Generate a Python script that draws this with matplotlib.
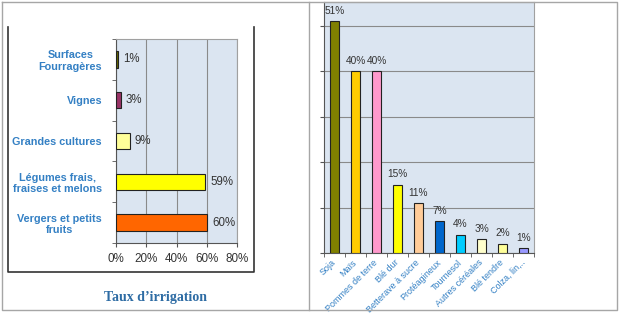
import matplotlib
matplotlib.use("Agg")
import matplotlib.pyplot as plt
from matplotlib.lines import Line2D
import numpy as np

# ---- data ----
irr_categories = ["Surfaces\nFourragères", "Vignes", "Grandes cultures",
                  "Légumes frais,\nfraises et melons", "Vergers et petits\nfruits"]
irr_values = [1, 3, 9, 59, 60]
irr_colors = ["#666600", "#993366", "#ffff99", "#ffff00", "#ff6600"]
irr_ticks = [0, 20, 40, 60, 80]

crop_categories = ["Soja", "Maïs", "Pommes de terre", "Blé dur", "Betterave à sucre",
                   "Protéagineux", "Tournesol", "Autres céréales", "Blé tendre", "Colza, lin,.."]
crop_values = [51, 40, 40, 15, 11, 7, 4, 3, 2, 1]
crop_colors = ["#808000", "#ffcc00", "#ff99cc", "#ffff00", "#ffcc99",
               "#0066cc", "#00ccff", "#ffffcc", "#ffff99", "#9999ff"]

W, H = 620, 326
plt.rcParams['font.family'] = ['Liberation Sans', 'DejaVu Sans']
fig = plt.figure(figsize=(W / 100, H / 100), dpi=100)
fig.patch.set_facecolor("white")

BLUE = "#3480c4"
BG = "#dbe5f1"
GRID = "#8a8a8a"


def box(x0, y0, x1, y1):
    """Axes rect from pixel corners (top-left origin)."""
    return [x0 / W, 1 - y1 / H, (x1 - x0) / W, (y1 - y0) / H]


def line(xs, ys, color, lw):
    fig.add_artist(Line2D([x / W for x in xs], [1 - y / H for y in ys],
                          color=color, lw=lw, transform=fig.transFigure))


# outer frames and divider
frame_c = "#a6a6a6"
line([2, 617, 617, 2, 2], [2, 2, 310, 310, 2], frame_c, 1.0)
line([309, 309], [2, 310], frame_c, 1.0)
# inner chart frame (left panel)
line([8, 8, 254, 254], [27, 272, 272, 27], "#333333", 1.2)

# ---- left chart: irrigation rate ----
ax1 = fig.add_axes(box(116, 39, 237, 243))
ax1.set_facecolor(BG)
y = np.arange(len(irr_categories))
ax1.barh(y, irr_values, height=0.4, color=irr_colors, edgecolor="#222222", lw=0.8, zorder=3)
ax1.set_ylim(len(irr_categories) - 0.5, -0.5)
ax1.set_xlim(0, 80)
ax1.set_xticks(irr_ticks)
ax1.set_xticklabels([f"{t}%" for t in irr_ticks], fontsize=8.4, color="#333333")
ax1.set_yticks(y)
ax1.set_yticklabels(irr_categories, fontsize=7.8, color=BLUE, fontweight="bold",
                    multialignment="center")
ax1.set_yticks(np.arange(len(irr_categories) + 1) - 0.5, minor=True)
ax1.tick_params(axis="y", which="major", length=0, pad=10)
ax1.tick_params(axis="y", which="minor", length=3, color="#555555")
ax1.tick_params(axis="x", length=3, color="#555555", pad=4)
ax1.grid(axis="x", color=GRID, lw=0.8, zorder=1)
for s in ["top", "right"]:
    ax1.spines[s].set_color("#a0a0a0")
for s in ["left", "bottom"]:
    ax1.spines[s].set_color("#555555")
for yi, v in zip(y, irr_values):
    ax1.text(v + 3.5, yi, f"{v}%", va="center", ha="left", fontsize=8.3, color="#333333", zorder=4)

fig.text(156 / W, 1 - 297 / H, "Taux d’irrigation", ha="center", va="center",
         fontsize=10, fontweight="bold", color="#2e6ca4",
         family=["Liberation Serif", "DejaVu Serif"])

# ---- right chart: share by crop ----
ax2 = fig.add_axes(box(324, 2, 534, 253))
ax2.set_facecolor(BG)
x = np.arange(len(crop_categories))
ax2.bar(x, crop_values, width=0.4, color=crop_colors, edgecolor="#222222", lw=0.8, zorder=3)
ax2.set_xlim(-0.5, len(crop_categories) - 0.5)
ax2.set_ylim(0, 55.2)
ax2.set_yticks([0, 10, 20, 30, 40, 50])
ax2.set_yticklabels([])
ax2.tick_params(axis="y", length=3, color="#555555")
ax2.set_xticks(x)
ax2.set_xticklabels(crop_categories, rotation=45, ha="right", va="center",
                    rotation_mode="anchor", fontsize=6.5, color=BLUE)
ax2.set_xticks(np.arange(len(crop_categories) + 1) - 0.5, minor=True)
ax2.tick_params(axis="x", which="major", length=0, pad=6)
ax2.tick_params(axis="x", which="minor", length=3, color="#555555")
ax2.grid(axis="y", color=GRID, lw=0.8, zorder=1)
for s in ["top", "right"]:
    ax2.spines[s].set_color("#a0a0a0")
for s in ["left", "bottom"]:
    ax2.spines[s].set_color("#555555")
for xi, v in zip(x, crop_values):
    ax2.text(xi, v + 1.2, f"{v}%", ha="center", va="bottom", fontsize=7.3, color="#333333", zorder=4)

fig.savefig("out.png", dpi=100, facecolor="white")
